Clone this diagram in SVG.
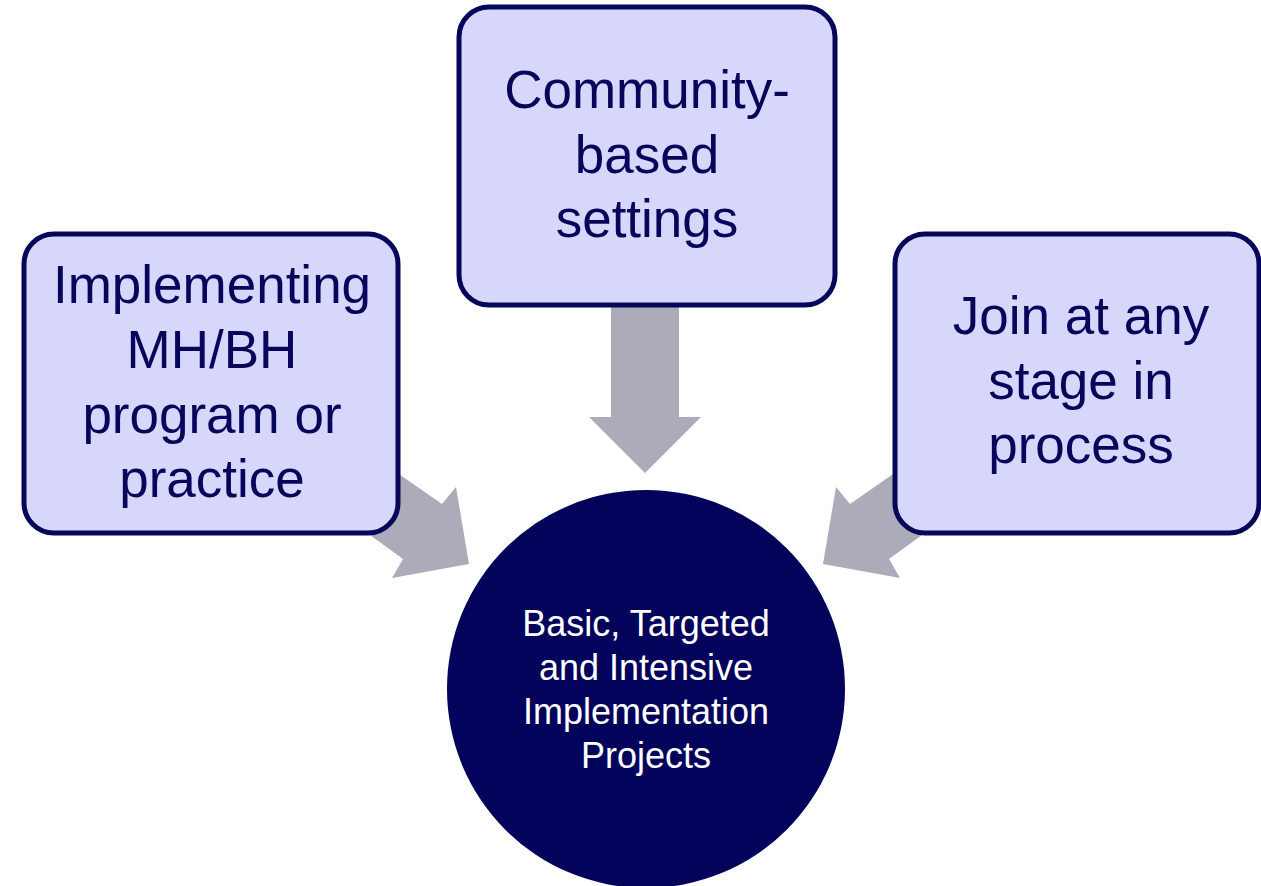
<svg xmlns="http://www.w3.org/2000/svg" width="1261" height="886" viewBox="0 0 1261 886">
<style>
.box{fill:#d7d7fb;stroke:#07075a;stroke-width:5}
.bt{font-family:"Liberation Sans",Arial,sans-serif;font-size:53px;fill:#06065a;text-anchor:middle}
.ct{font-family:"Liberation Sans",Arial,sans-serif;font-size:36px;fill:#ffffff;text-anchor:middle}
.arr{fill:#ababb9}
</style>
<rect width="1261" height="886" fill="#ffffff"/>
<g id="connectors">
<polygon class="arr" points="611,300 679,300 679,417 701,417 645,473 589,417 611,417"/>
<polygon class="arr" points="360,447 442,504 456,487 469,564 392,578 403,559 330,506"/>
<polygon class="arr" points="932,447 850,504 836,487 823,564 900,578 889,559 962,506"/>
</g>
<g id="node-left">
<rect class="box" x="24" y="234" width="374" height="299" rx="30"/>
<text class="bt" x="212" y="303">Implementing</text>
<text class="bt" x="212" y="368">MH/BH</text>
<text class="bt" x="212" y="433">program or</text>
<text class="bt" x="212" y="497">practice</text>
</g>
<g id="node-top">
<rect class="box" x="459" y="7" width="376" height="298" rx="30"/>
<text class="bt" x="647" y="108">Community-</text>
<text class="bt" x="647" y="173">based</text>
<text class="bt" x="647" y="237">settings</text>
</g>
<g id="node-right">
<rect class="box" x="895" y="234" width="364" height="299" rx="30"/>
<text class="bt" x="1081" y="334">Join at any</text>
<text class="bt" x="1081" y="399">stage in</text>
<text class="bt" x="1081" y="463">process</text>
</g>
<g id="node-center">
<circle cx="646" cy="689" r="199" fill="#03035c"/>
<text class="ct" x="646" y="636">Basic, Targeted</text>
<text class="ct" x="646" y="680">and Intensive</text>
<text class="ct" x="646" y="724">Implementation</text>
<text class="ct" x="646" y="768">Projects</text>
</g>
</svg>
